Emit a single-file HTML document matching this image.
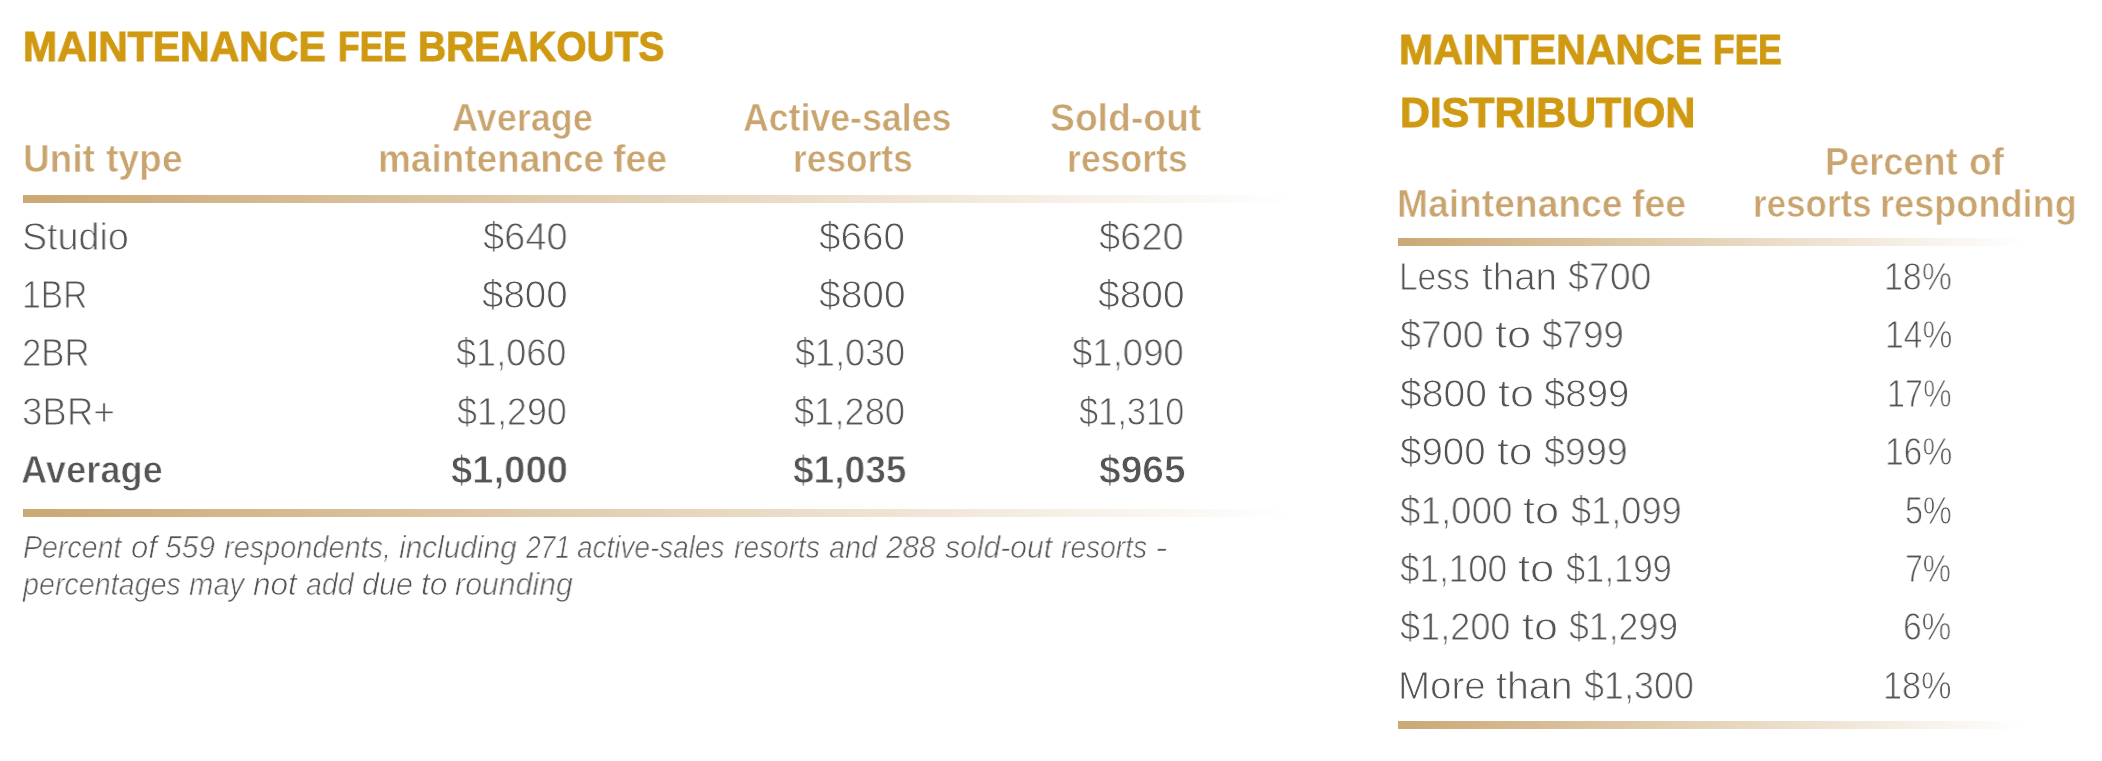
<!DOCTYPE html>
<html><head><meta charset="utf-8"><title>Maintenance fee breakouts and distribution</title>
<style>
html,body{margin:0;padding:0;background:#fff;}
body{width:2102px;height:761px;position:relative;overflow:hidden;font-family:'Liberation Sans', sans-serif;}
.t{position:absolute;white-space:nowrap;transform-origin:0 0;will-change:transform;}
.g{font-weight:bold;font-size:42.8px;line-height:42.8px;color:#D09912;-webkit-text-stroke:1.0px #D09912;}
.h{font-weight:bold;font-size:39.2px;line-height:39.2px;color:#C9A46E;-webkit-text-stroke:0.6px #fff;}
.b{font-size:38.4px;line-height:38.4px;color:#545456;-webkit-text-stroke:0.9px #fff;}
.bb{font-weight:bold;font-size:38.4px;line-height:38.4px;color:#545456;-webkit-text-stroke:0.8px #fff;}
.i{font-style:italic;font-size:30.5px;line-height:30.5px;color:#545456;-webkit-text-stroke:0.7px #fff;}
.rule{position:absolute;height:8px;background:linear-gradient(to right,#CBA874,#fff);}
</style></head><body>
<div class="rule" style="left:23px;top:195px;width:1268px"></div>
<div class="rule" style="left:23px;top:508.5px;width:1268px"></div>
<div class="rule" style="left:1398px;top:238px;width:625px"></div>
<div class="rule" style="left:1398px;top:720.5px;width:625px"></div>
<div class="t g" style="left:23.08px;top:25.00px;transform:scaleX(0.9575)">MAINTENANCE</div>
<div class="t g" style="left:337.95px;top:25.00px;transform:scaleX(0.8250)">FEE</div>
<div class="t g" style="left:418.48px;top:25.00px;transform:scaleX(0.9086)">BREAKOUTS</div>
<div class="t g" style="left:1398.58px;top:28.00px;transform:scaleX(0.9588)">MAINTENANCE</div>
<div class="t g" style="left:1713.35px;top:28.00px;transform:scaleX(0.8250)">FEE</div>
<div class="t g" style="left:1400.06px;top:91.00px;transform:scaleX(0.9700)">DISTRIBUTION</div>
<div class="t h" style="left:23.11px;top:139.00px;transform:scaleX(0.9446)">Unit</div>
<div class="t h" style="left:105.90px;top:139.00px;transform:scaleX(0.9506)">type</div>
<div class="t h" style="left:452.38px;top:98.00px;transform:scaleX(0.9185)">Average</div>
<div class="t h" style="left:378.17px;top:139.00px;transform:scaleX(0.9434)">maintenance</div>
<div class="t h" style="left:613.14px;top:139.00px;transform:scaleX(0.9556)">fee</div>
<div class="t h" style="left:743.29px;top:98.00px;transform:scaleX(0.9106)">Active-sales</div>
<div class="t h" style="left:792.90px;top:139.00px;transform:scaleX(0.9016)">resorts</div>
<div class="t h" style="left:1050.35px;top:98.00px;transform:scaleX(0.9519)">Sold-out</div>
<div class="t h" style="left:1066.87px;top:139.00px;transform:scaleX(0.9086)">resorts</div>
<div class="t h" style="left:1397.15px;top:184.00px;transform:scaleX(0.9502)">Maintenance</div>
<div class="t h" style="left:1632.14px;top:184.00px;transform:scaleX(0.9556)">fee</div>
<div class="t h" style="left:1825.03px;top:142.00px;transform:scaleX(0.9220)">Percent</div>
<div class="t h" style="left:1969.46px;top:142.00px;transform:scaleX(0.9417)">of</div>
<div class="t h" style="left:1752.52px;top:184.00px;transform:scaleX(0.8930)">resorts</div>
<div class="t h" style="left:1879.83px;top:184.00px;transform:scaleX(0.9221)">responding</div>
<div class="t b" style="left:22.44px;top:217.70px;transform:scaleX(0.9810)">Studio</div>
<div class="t b" style="left:21.77px;top:276.00px;transform:scaleX(0.8754)">1BR</div>
<div class="t b" style="left:22.39px;top:334.40px;transform:scaleX(0.9043)">2BR</div>
<div class="t b" style="left:22.29px;top:392.70px;transform:scaleX(0.9548)">3BR+</div>
<div class="t bb" style="left:21.21px;top:451.00px;transform:scaleX(0.9449)">Average</div>
<div class="t b" style="left:482.51px;top:217.70px;transform:scaleX(0.9916)">$640</div>
<div class="t b" style="left:481.50px;top:276.00px;transform:scaleX(1.0036)">$800</div>
<div class="t b" style="left:456.46px;top:334.40px;transform:scaleX(0.9409)">$1,060</div>
<div class="t b" style="left:457.06px;top:392.70px;transform:scaleX(0.9357)">$1,290</div>
<div class="t bb" style="left:450.60px;top:451.00px;transform:scaleX(0.9965)">$1,000</div>
<div class="t b" style="left:819.39px;top:217.70px;transform:scaleX(1.0060)">$660</div>
<div class="t b" style="left:818.69px;top:276.00px;transform:scaleX(1.0145)">$800</div>
<div class="t b" style="left:795.16px;top:334.40px;transform:scaleX(0.9383)">$1,030</div>
<div class="t b" style="left:794.25px;top:392.70px;transform:scaleX(0.9461)">$1,280</div>
<div class="t bb" style="left:792.93px;top:451.00px;transform:scaleX(0.9670)">$1,035</div>
<div class="t b" style="left:1099.41px;top:217.70px;transform:scaleX(0.9928)">$620</div>
<div class="t b" style="left:1097.59px;top:276.00px;transform:scaleX(1.0145)">$800</div>
<div class="t b" style="left:1072.45px;top:334.40px;transform:scaleX(0.9522)">$1,090</div>
<div class="t b" style="left:1078.80px;top:392.70px;transform:scaleX(0.8974)">$1,310</div>
<div class="t bb" style="left:1098.79px;top:451.00px;transform:scaleX(1.0145)">$965</div>
<div class="t b" style="left:1398.99px;top:258.10px;transform:scaleX(0.8714)">Less</div>
<div class="t b" style="left:1481.70px;top:258.10px;transform:scaleX(1.0042)">than</div>
<div class="t b" style="left:1567.72px;top:258.10px;transform:scaleX(0.9771)">$700</div>
<div class="t b" style="left:1399.62px;top:316.48px;transform:scaleX(0.9807)">$700</div>
<div class="t b" style="left:1494.57px;top:316.48px;transform:scaleX(1.1310)">to</div>
<div class="t b" style="left:1541.54px;top:316.48px;transform:scaleX(0.9590)">$799</div>
<div class="t b" style="left:1399.58px;top:374.86px;transform:scaleX(1.0169)">$800</div>
<div class="t b" style="left:1498.28px;top:374.86px;transform:scaleX(1.1207)">to</div>
<div class="t b" style="left:1544.40px;top:374.86px">$899</div>
<div class="t b" style="left:1399.60px;top:433.24px;transform:scaleX(1.0024)">$900</div>
<div class="t b" style="left:1497.39px;top:433.24px;transform:scaleX(1.1103)">to</div>
<div class="t b" style="left:1544.42px;top:433.24px;transform:scaleX(0.9807)">$999</div>
<div class="t b" style="left:1399.64px;top:491.62px;transform:scaleX(0.9583)">$1,000</div>
<div class="t b" style="left:1523.37px;top:491.62px;transform:scaleX(1.1276)">to</div>
<div class="t b" style="left:1570.56px;top:491.62px;transform:scaleX(0.9426)">$1,099</div>
<div class="t b" style="left:1399.69px;top:550.00px;transform:scaleX(0.9130)">$1,100</div>
<div class="t b" style="left:1518.47px;top:550.00px;transform:scaleX(1.1345)">to</div>
<div class="t b" style="left:1565.50px;top:550.00px;transform:scaleX(0.9009)">$1,199</div>
<div class="t b" style="left:1399.66px;top:608.38px;transform:scaleX(0.9409)">$1,200</div>
<div class="t b" style="left:1522.18px;top:608.38px;transform:scaleX(1.1172)">to</div>
<div class="t b" style="left:1569.27px;top:608.38px;transform:scaleX(0.9287)">$1,299</div>
<div class="t b" style="left:1397.89px;top:666.76px;transform:scaleX(1.0036)">More</div>
<div class="t b" style="left:1496.48px;top:666.76px;transform:scaleX(1.0239)">than</div>
<div class="t b" style="left:1583.56px;top:666.76px;transform:scaleX(0.9365)">$1,300</div>
<div class="t b" style="left:1883.95px;top:258.10px;transform:scaleX(0.8833)">18%</div>
<div class="t b" style="left:1884.58px;top:316.48px;transform:scaleX(0.8750)">14%</div>
<div class="t b" style="left:1887.07px;top:374.86px;transform:scaleX(0.8417)">17%</div>
<div class="t b" style="left:1884.58px;top:433.24px;transform:scaleX(0.8750)">16%</div>
<div class="t b" style="left:1904.61px;top:491.62px;transform:scaleX(0.8442)">5%</div>
<div class="t b" style="left:1905.34px;top:550.00px;transform:scaleX(0.8308)">7%</div>
<div class="t b" style="left:1903.05px;top:608.38px;transform:scaleX(0.8731)">6%</div>
<div class="t b" style="left:1883.33px;top:666.76px;transform:scaleX(0.8917)">18%</div>
<div class="t i" style="left:22.67px;top:532.00px;transform:scaleX(0.9343)">Percent</div>
<div class="t i" style="left:130.69px;top:532.00px;transform:scaleX(1.0148)">of</div>
<div class="t i" style="left:165.02px;top:532.00px;transform:scaleX(0.9816)">559</div>
<div class="t i" style="left:223.75px;top:532.00px;transform:scaleX(0.9477)">respondents,</div>
<div class="t i" style="left:399.02px;top:532.00px;transform:scaleX(0.9773)">including</div>
<div class="t i" style="left:526.30px;top:532.00px;transform:scaleX(0.8625)">271</div>
<div class="t i" style="left:577.38px;top:532.00px;transform:scaleX(0.9151)">active-sales</div>
<div class="t i" style="left:733.88px;top:532.00px;transform:scaleX(0.9207)">resorts</div>
<div class="t i" style="left:828.76px;top:532.00px;transform:scaleX(0.9431)">and</div>
<div class="t i" style="left:886.40px;top:532.00px;transform:scaleX(0.9706)">288</div>
<div class="t i" style="left:945.30px;top:532.00px;transform:scaleX(0.9872)">sold-out</div>
<div class="t i" style="left:1061.08px;top:532.00px;transform:scaleX(0.9228)">resorts</div>
<div class="t i" style="left:1155.14px;top:532.00px;transform:scaleX(1.2286)">-</div>
<div class="t i" style="left:23.34px;top:568.70px;transform:scaleX(0.9399)">percentages</div>
<div class="t i" style="left:189.34px;top:568.70px;transform:scaleX(0.9586)">may</div>
<div class="t i" style="left:253.27px;top:568.70px;transform:scaleX(1.0333)">not</div>
<div class="t i" style="left:305.57px;top:568.70px;transform:scaleX(0.9333)">add</div>
<div class="t i" style="left:362.41px;top:568.70px;transform:scaleX(0.9918)">due</div>
<div class="t i" style="left:420.86px;top:568.70px;transform:scaleX(1.0417)">to</div>
<div class="t i" style="left:455.21px;top:568.70px;transform:scaleX(0.9923)">rounding</div>
</body></html>
